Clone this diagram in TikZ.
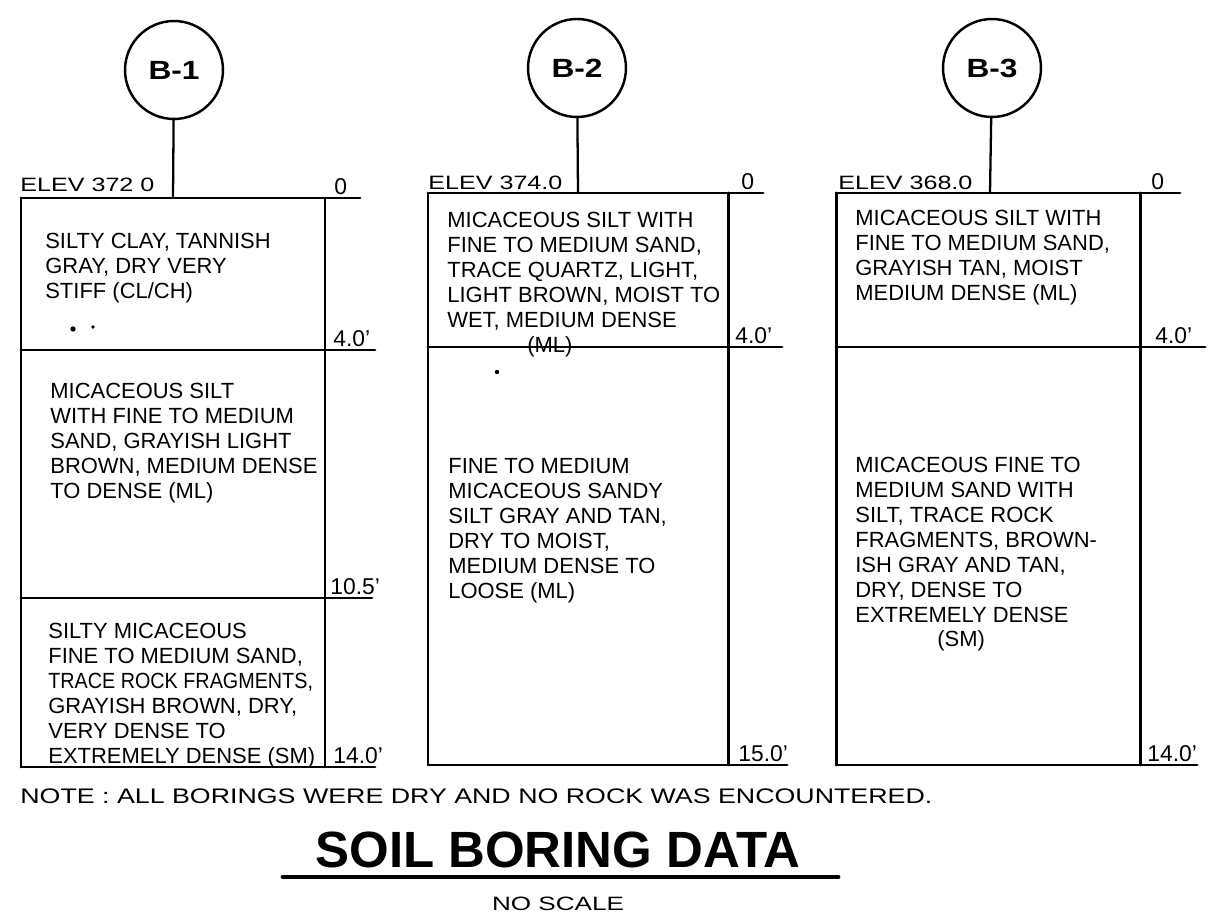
\documentclass[tikz,border=0pt]{standalone}
\usepackage{fontspec}
\setmainfont{Liberation Sans}
\usepackage{graphicx}
\begin{document}
\begin{tikzpicture}[x=0.02cm,y=-0.02cm,
  bline/.style={line width=1.7pt, line cap=round},
  stem/.style={line width=1.3pt},
  bore/.style={circle, draw, line width=1.4pt, minimum size=1.96cm, inner sep=0pt, font=\fontsize{15}{15}\selectfont\bfseries},
  soil/.style={anchor=north west, inner sep=0pt, align=left, font=\fontsize{12.5}{14.17}\selectfont},
  depth/.style={anchor=south west, inner sep=0pt, font=\fontsize{13}{13}\selectfont},
  elev/.style={anchor=south west, inner sep=0pt, font=\fontsize{11}{11}\selectfont},
  speck/.style={fill=black, inner sep=0pt, minimum size=3pt, circle}]
\useasboundingbox (0,0) rectangle (1210,918);

% ---------- B-1 ----------
\node[bore] (b1) at (174,70) {\scalebox{1.2}[1]{B-1}};
\coordinate (t1) at (173,198);
\draw[stem] (b1) -- (t1);
\draw[bline] (21,198) -- (360,198);
\draw[bline] (21,198) -- (21,767);
\draw[bline] (325,198) -- (325,767);
\draw[bline] (21,350) -- (375,350);
\draw[bline] (21,598) -- (372,598);
\draw[bline] (21,767) -- (375,767);
\node[elev] (e1) at (20,192) {\scalebox{1.3}[1]{ELEV 372 0}};
\node[depth] (d10) at (334,195) {0};
\node[depth] (d11) at (333,347) {4.0'};
\node[depth] (d12) at (330,595) {10.5'};
\node[depth] (d13) at (333,764) {14.0'};
\node[soil] (s11) at (45,233) {SILTY CLAY, TANNISH\\GRAY, DRY VERY\\STIFF (CL/CH)};
\node[speck] (p1) at (73,329) {};
\node[speck, minimum size=2pt] (p2) at (93,327) {};
\node[soil] (s12) at (50,383) {MICACEOUS SILT\\WITH FINE TO MEDIUM\\SAND, GRAYISH LIGHT\\BROWN, MEDIUM DENSE\\TO DENSE (ML)};
\node[soil] (s13) at (48,623) {SILTY MICACEOUS\\FINE TO MEDIUM SAND,\\\scalebox{0.9}[1]{TRACE ROCK FRAGMENTS,}\\GRAYISH BROWN, DRY,\\VERY DENSE TO\\EXTREMELY DENSE (SM)};

% ---------- B-2 ----------
\node[bore] (b2) at (577,68) {\scalebox{1.2}[1]{B-2}};
\coordinate (t2) at (578,193);
\draw[stem] (b2) -- (t2);
\draw[bline] (428,193) -- (763,193);
\draw[bline] (428,193) -- (428,765);
\draw[bline] (728,193) -- (728,765);
\draw[bline] (428,347) -- (782,347);
\draw[bline] (428,765) -- (787,765);
\node[elev] (e2) at (428,190) {\scalebox{1.3}[1]{ELEV 374.0}};
\node[depth] (d20) at (741,190) {0};
\node[depth] (d21) at (735,344) {4.0'};
\node[depth] (d22) at (738,762) {15.0'};
\node[soil] (s21) at (447,212) {MICACEOUS SILT WITH\\FINE TO MEDIUM SAND,\\TRACE QUARTZ, LIGHT,\\LIGHT BROWN, MOIST TO\\WET, MEDIUM DENSE\\\hspace*{1.6cm}(ML)};
\node[speck, minimum size=2.5pt] (p3) at (497,372) {};
\node[soil] (s22) at (448,458) {FINE TO MEDIUM\\MICACEOUS SANDY\\SILT GRAY AND TAN,\\DRY TO MOIST,\\MEDIUM DENSE TO\\LOOSE (ML)};

% ---------- B-3 ----------
\node[bore] (b3) at (992,68) {\scalebox{1.2}[1]{B-3}};
\coordinate (t3) at (990,193);
\draw[stem] (b3) -- (t3);
\draw[bline] (836,193) -- (1180,193);
\draw[bline] (836,193) -- (836,765);
\draw[bline] (1140,193) -- (1140,765);
\draw[bline] (836,347) -- (1205,347);
\draw[bline] (836,765) -- (1197,765);
\node[elev] (e3) at (838,190) {\scalebox{1.3}[1]{ELEV 368.0}};
\node[depth] (d30) at (1151,190) {0};
\node[depth] (d31) at (1155,344) {4.0'};
\node[depth] (d32) at (1147,762) {14.0'};
\node[soil] (s31) at (855,210) {MICACEOUS SILT WITH\\FINE TO MEDIUM SAND,\\GRAYISH TAN, MOIST\\MEDIUM DENSE (ML)};
\node[soil] (s32) at (855,457) {MICACEOUS FINE TO\\MEDIUM SAND WITH\\SILT, TRACE ROCK\\FRAGMENTS, BROWN-\\ISH GRAY AND TAN,\\DRY, DENSE TO\\EXTREMELY DENSE\\\hspace*{1.64cm}(SM)};

% ---------- notes and title ----------
\node[anchor=base west, inner sep=0pt, font=\fontsize{12}{12}\selectfont] (note) at (20,803)
  {\scalebox{1.27}[1]{NOTE : ALL BORINGS WERE DRY AND NO ROCK WAS ENCOUNTERED.}};
\node[anchor=base, inner sep=0pt, font=\fontsize{29}{29}\selectfont\bfseries] (title) at (558,867) {SOIL BORING DATA};
\draw[line width=2.8pt, line cap=round] (283,877) -- (838,877);
\node[anchor=base, inner sep=0pt, font=\fontsize{11}{11}\selectfont] (scale) at (558,910) {\scalebox{1.35}[1]{NO SCALE}};
\end{tikzpicture}
\end{document}
